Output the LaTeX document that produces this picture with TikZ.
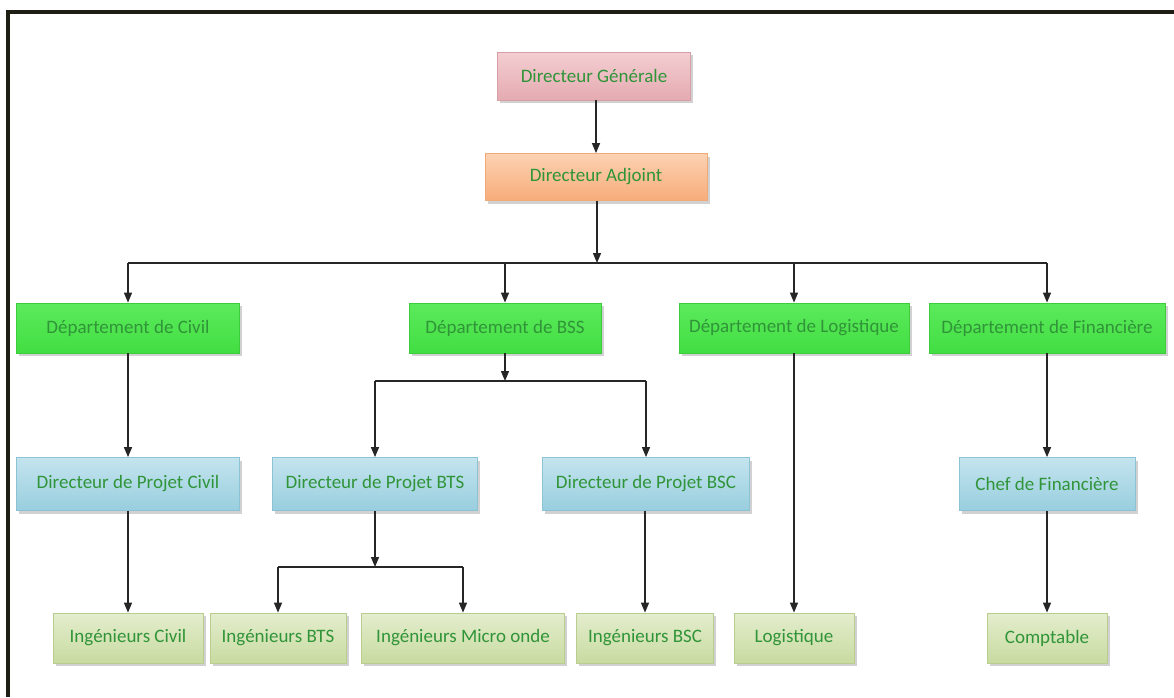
\documentclass[tikz,border=0pt]{standalone}
\usepackage{fontspec}
\setmainfont{Carlito}
\usetikzlibrary{arrows.meta,shadows}

\definecolor{txtgreen}{RGB}{48,148,56}
\definecolor{framecol}{RGB}{30,30,20}
\definecolor{pinkTop}{RGB}{244,206,210}
\definecolor{pinkMid}{RGB}{250,230,232}
\definecolor{pinkBot}{RGB}{228,170,177}
\definecolor{pinkLine}{RGB}{214,160,166}
\definecolor{orTop}{RGB}{252,210,178}
\definecolor{orMid}{RGB}{253,226,204}
\definecolor{orBot}{RGB}{247,172,122}
\definecolor{orLine}{RGB}{240,170,120}
\definecolor{grTop}{RGB}{92,234,92}
\definecolor{grMid}{RGB}{150,242,150}
\definecolor{grBot}{RGB}{66,222,66}
\definecolor{grLine}{RGB}{60,205,60}
\definecolor{blTop}{RGB}{196,228,238}
\definecolor{blMid}{RGB}{228,243,248}
\definecolor{blBot}{RGB}{152,206,222}
\definecolor{blLine}{RGB}{140,195,212}
\definecolor{olTop}{RGB}{228,237,206}
\definecolor{olMid}{RGB}{243,247,233}
\definecolor{olBot}{RGB}{200,219,160}
\definecolor{olLine}{RGB}{185,206,142}

\tikzset{
  base/.style={rectangle, inner sep=0pt, minimum height=50pt,
    font=\fontsize{19}{22}\selectfont, text=txtgreen, line width=0.8pt,
    drop shadow={shadow xshift=2.5pt, shadow yshift=-3pt, opacity=0.3, fill=black!60}},
  pinkbox/.style={base, draw=pinkLine, top color=pinkTop, middle color=pinkMid, bottom color=pinkBot},
  orangebox/.style={base, draw=orLine, top color=orTop, middle color=orMid, bottom color=orBot},
  deptbox/.style={base, draw=grLine, top color=grTop, middle color=grMid, bottom color=grBot},
  dirbox/.style={base, draw=blLine, top color=blTop, middle color=blMid, bottom color=blBot},
  staffbox/.style={base, draw=olLine, top color=olTop, middle color=olMid, bottom color=olBot},
  conn/.style={draw=black!85, line width=1.4pt, -{Triangle[length=10pt,width=8pt]}},
  busline/.style={draw=black!85, line width=1.4pt}
}

\begin{document}
\begin{tikzpicture}[x=1pt, y=-1pt]
  \useasboundingbox (0,0) rectangle (1174,697);

  % page frame (top and left edges)
  \fill[framecol] (6,10) rectangle (1174,14);
  \fill[framecol] (6,10) rectangle (10,697);

  % top management
  \node[pinkbox, minimum width=193pt, minimum height=48pt] (dg) at (594,76) {Directeur Générale};
  \node[orangebox, minimum width=222pt, minimum height=47pt] (da) at (596,177) {Directeur Adjoint};

  % departments
  \node[deptbox, minimum width=223pt] (dciv) at (128,328) {Département de Civil};
  \node[deptbox, minimum width=192pt] (dbss) at (505,328) {Département de BSS};
  \node[deptbox, minimum width=230pt] (dlog) at (794,328) {Département de Logistique};
  \node[deptbox, minimum width=236pt] (dfin) at (1047,328) {Département de Financière};

  % project directors
  \node[dirbox, minimum width=223pt, minimum height=53pt] (pciv) at (128,484) {Directeur de Projet Civil};
  \node[dirbox, minimum width=205pt, minimum height=53pt] (pbts) at (375,484) {Directeur de Projet BTS};
  \node[dirbox, minimum width=207pt, minimum height=53pt] (pbsc) at (646,484) {Directeur de Projet BSC};
  \node[dirbox, minimum width=176pt, minimum height=53pt] (chef) at (1047,484) {Chef de Financière};

  % staff
  \node[staffbox, minimum width=150pt] (iciv) at (128,638) {Ingénieurs Civil};
  \node[staffbox, minimum width=136pt] (ibts) at (278,638) {Ingénieurs BTS};
  \node[staffbox, minimum width=203pt] (imo) at (463,638) {Ingénieurs Micro onde};
  \node[staffbox, minimum width=137pt] (ibsc) at (645,638) {Ingénieurs BSC};
  \node[staffbox, minimum width=120pt] (log) at (794,638) {Logistique};
  \node[staffbox, minimum width=120pt] (comp) at (1047,638) {Comptable};

  % bus coordinates
  \coordinate (busA) at (597,263);
  \coordinate (busB) at (505,381);
  \coordinate (busC) at (375,567);

  % connectors
  \draw[conn] (da.north |- dg.south) -- (da.north);

  \draw[conn] (da.south -| busA) -- (busA);
  \draw[busline] (dciv.north |- busA) -- (dfin.north |- busA);
  \draw[conn] (dciv.north |- busA) -- (dciv.north);
  \draw[conn] (dbss.north |- busA) -- (dbss.north);
  \draw[conn] (dlog.north |- busA) -- (dlog.north);
  \draw[conn] (dfin.north |- busA) -- (dfin.north);

  \draw[conn] (dciv.south) -- (pciv.north);
  \draw[conn] (pciv.south) -- (iciv.north);

  \draw[conn] (dbss.south) -- (busB);
  \draw[busline] (pbts.north |- busB) -- (pbsc.north |- busB);
  \draw[conn] (pbts.north |- busB) -- (pbts.north);
  \draw[conn] (pbsc.north |- busB) -- (pbsc.north);

  \draw[conn] (pbts.south) -- (busC);
  \draw[busline] (ibts.north |- busC) -- (imo.north |- busC);
  \draw[conn] (ibts.north |- busC) -- (ibts.north);
  \draw[conn] (imo.north |- busC) -- (imo.north);

  \draw[conn] (pbsc.south -| ibsc.north) -- (ibsc.north);
  \draw[conn] (dlog.south) -- (log.north);
  \draw[conn] (dfin.south) -- (chef.north);
  \draw[conn] (chef.south) -- (comp.north);
\end{tikzpicture}
\end{document}
